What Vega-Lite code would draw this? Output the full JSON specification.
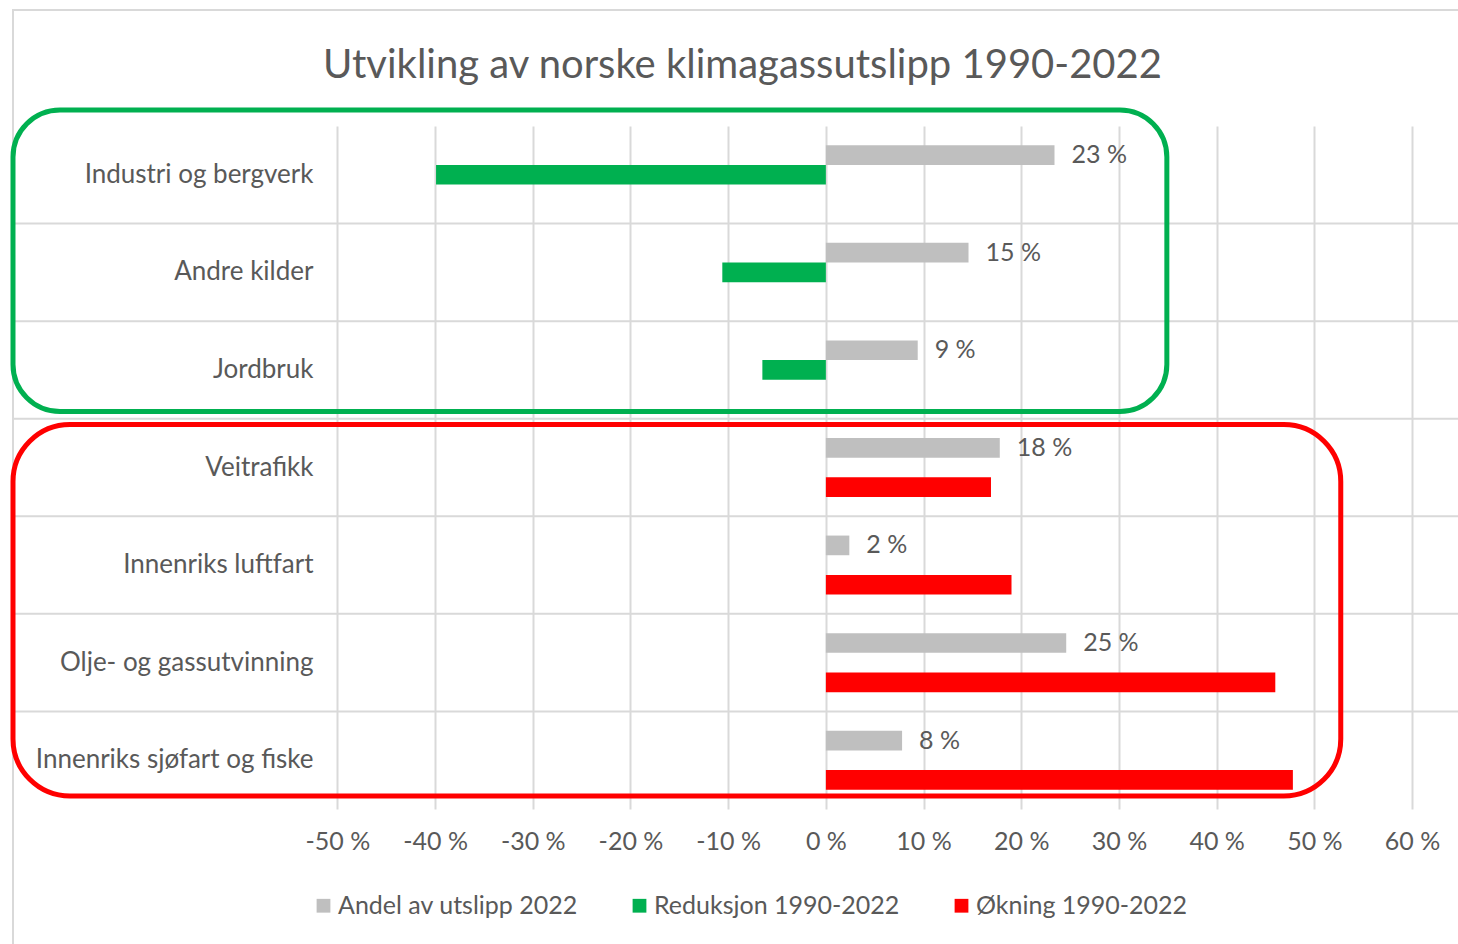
{
  "$schema": "https://vega.github.io/schema/vega-lite/v6.json",
  "width": 1445,
  "height": 683,
  "autosize": {"type": "none"},
  "padding": {"left": 13, "top": 126, "right": 0, "bottom": 135},
  "background": "white",
  "config": {"view": {"stroke": null}, "font": "Lato"},
  "title": {
    "text": "Utvikling av norske klimagassutslipp 1990-2022",
    "font": "Lato",
    "fontSize": 40,
    "fontWeight": "normal",
    "color": "#595959",
    "anchor": "middle",
    "frame": "group",
    "offset": -77,
    "dx": 7
  },
  "datasets": {
    "utslipp": [
      {"sektor": "Industri og bergverk", "serie": "Andel av utslipp 2022", "verdi": 23.4},
      {"sektor": "Industri og bergverk", "serie": "Reduksjon 1990-2022", "verdi": -39.9},
      {"sektor": "Andre kilder", "serie": "Andel av utslipp 2022", "verdi": 14.6},
      {"sektor": "Andre kilder", "serie": "Reduksjon 1990-2022", "verdi": -10.6},
      {"sektor": "Jordbruk", "serie": "Andel av utslipp 2022", "verdi": 9.4},
      {"sektor": "Jordbruk", "serie": "Reduksjon 1990-2022", "verdi": -6.5},
      {"sektor": "Veitrafikk", "serie": "Andel av utslipp 2022", "verdi": 17.8},
      {"sektor": "Veitrafikk", "serie": "Økning 1990-2022", "verdi": 16.9},
      {"sektor": "Innenriks luftfart", "serie": "Andel av utslipp 2022", "verdi": 2.4},
      {"sektor": "Innenriks luftfart", "serie": "Økning 1990-2022", "verdi": 19.0},
      {"sektor": "Olje- og gassutvinning", "serie": "Andel av utslipp 2022", "verdi": 24.6},
      {"sektor": "Olje- og gassutvinning", "serie": "Økning 1990-2022", "verdi": 46.0},
      {"sektor": "Innenriks sjøfart og fiske", "serie": "Andel av utslipp 2022", "verdi": 7.8},
      {"sektor": "Innenriks sjøfart og fiske", "serie": "Økning 1990-2022", "verdi": 47.8}
    ],
    "rammer": [
      {"ramme": "kant", "x1": -83.2, "x2": 70, "y1": -1.19, "y2": 9},
      {"ramme": "grønn", "x1": -83.2, "x2": 34.9, "y1": -0.164, "y2": 2.926},
      {"ramme": "rød", "x1": -83.2, "x2": 52.7, "y1": 3.059, "y2": 6.867}
    ]
  },
  "resolve": {"scale": {"y": "independent"}},
  "layer": [
    {
      "data": {"name": "utslipp"},
      "layer": [
        {
          "transform": [{"filter": "datum.serie == 'Andel av utslipp 2022' && datum.sektor != 'Industri og bergverk'"}],
          "mark": {"type": "rule", "color": "#d9d9d9", "strokeWidth": 2},
          "encoding": {
            "y": {"field": "sektor", "type": "nominal", "bandPosition": 0}
          }
        },
        {
          "mark": {"type": "bar"},
          "encoding": {
            "y": {
              "field": "sektor",
              "type": "nominal",
              "sort": null,
              "scale": {
                "domain": ["Industri og bergverk", "Andre kilder", "Jordbruk", "Veitrafikk", "Innenriks luftfart", "Olje- og gassutvinning", "Innenriks sjøfart og fiske"],
                "paddingInner": 0,
                "paddingOuter": 0
              },
              "axis": {
                "title": null,
                "domain": false,
                "ticks": false,
                "grid": false,
                "labelFontSize": 26,
                "labelColor": "#595959",
                "labelPadding": 2,
                "labelLimit": 400,
                "offset": -302
              }
            },
            "yOffset": {
              "field": "serie",
              "type": "nominal",
              "scale": {
                "domain": ["Andel av utslipp 2022", "Reduksjon 1990-2022", "Økning 1990-2022"],
                "paddingInner": 0,
                "paddingOuter": 0.98
              }
            },
            "x": {
              "field": "verdi",
              "type": "quantitative",
              "scale": {"domain": [-83.2, 64.7], "nice": false, "zero": false},
              "axis": {
                "title": null,
                "values": [-50, -40, -30, -20, -10, 0, 10, 20, 30, 40, 50, 60],
                "labelExpr": "datum.value + ' %'",
                "domain": false,
                "ticks": false,
                "grid": true,
                "gridColor": "#d9d9d9",
                "gridWidth": 2,
                "labelFontSize": 25,
                "labelColor": "#595959",
                "labelPadding": 20
              }
            },
            "color": {
              "field": "serie",
              "type": "nominal",
              "scale": {
                "domain": ["Andel av utslipp 2022", "Reduksjon 1990-2022", "Økning 1990-2022"],
                "range": ["#bfbfbf", "#00b050", "#ff0000"]
              },
              "legend": {
                "orient": "none",
                "legendX": 298,
                "legendY": 767,
                "direction": "horizontal",
                "title": null,
                "symbolType": "square",
                "symbolSize": 190,
                "symbolStrokeWidth": 0,
                "labelFontSize": 25,
                "labelColor": "#595959",
                "labelLimit": 500,
                "labelOffset": 2,
                "columnPadding": 49
              }
            }
          }
        },
        {
          "transform": [
            {"filter": "datum.serie == 'Andel av utslipp 2022'"},
            {"calculate": "format(datum.verdi, '.0f') + ' %'", "as": "etikett"}
          ],
          "mark": {"type": "text", "align": "left", "baseline": "middle", "dx": 17, "fontSize": 25, "color": "#595959"},
          "encoding": {
            "y": {"field": "sektor", "type": "nominal", "sort": null},
            "yOffset": {"field": "serie", "type": "nominal"},
            "x": {"field": "verdi", "type": "quantitative"},
            "text": {"field": "etikett", "type": "nominal"}
          }
        }
      ]
    },
    {
      "data": {"name": "rammer"},
      "layer": [
        {
          "transform": [{"filter": "datum.ramme == 'kant'"}],
          "mark": {"type": "rect", "filled": false, "color": "#d9d9d9", "strokeWidth": 2},
          "encoding": {
            "x": {"field": "x1", "type": "quantitative"},
            "x2": {"field": "x2"},
            "y": {"field": "y1", "type": "quantitative", "scale": {"domain": [0, 7], "reverse": true, "nice": false, "zero": false}, "axis": null},
            "y2": {"field": "y2"}
          }
        },
        {
          "transform": [{"filter": "datum.ramme == 'grønn'"}],
          "mark": {"type": "rect", "filled": false, "color": "#00b050", "strokeWidth": 5, "cornerRadius": 47},
          "encoding": {
            "x": {"field": "x1", "type": "quantitative"},
            "x2": {"field": "x2"},
            "y": {"field": "y1", "type": "quantitative", "axis": null},
            "y2": {"field": "y2"}
          }
        },
        {
          "transform": [{"filter": "datum.ramme == 'rød'"}],
          "mark": {"type": "rect", "filled": false, "color": "#ff0000", "strokeWidth": 5, "cornerRadius": 57},
          "encoding": {
            "x": {"field": "x1", "type": "quantitative"},
            "x2": {"field": "x2"},
            "y": {"field": "y1", "type": "quantitative", "axis": null},
            "y2": {"field": "y2"}
          }
        }
      ]
    }
  ]
}
